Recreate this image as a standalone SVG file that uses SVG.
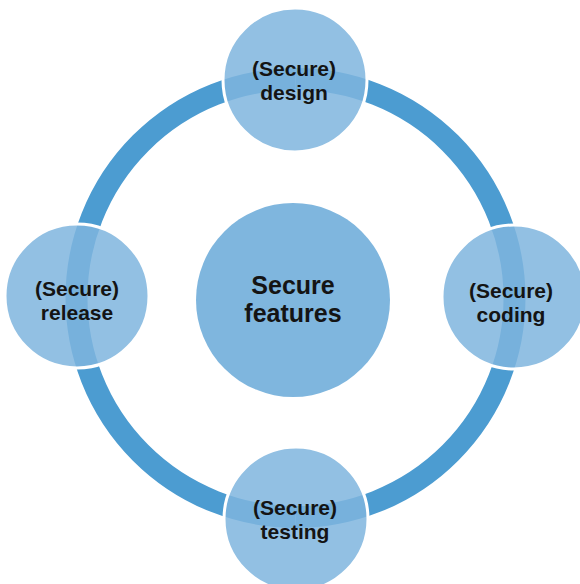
<svg xmlns="http://www.w3.org/2000/svg" width="580" height="584" viewBox="0 0 580 584">
<style>
.ring{fill:none;stroke:#4c9cd1;stroke-width:22}
.sat{fill:#7fb5de;fill-opacity:0.85;stroke:#ffffff;stroke-width:3}
.hub{fill:#7fb6de}
.t{font-family:"Liberation Sans",Arial,sans-serif;font-weight:bold;fill:#141414;text-anchor:middle}
.s{font-size:21px}
.c{font-size:25px}
</style>
<rect width="580" height="584" fill="#ffffff"/>
<g id="connectors">
<path class="ring" d="M295.5,79 A219,219 0 0 1 514.5,298"/>
<path class="ring" d="M514.5,298 A219,219 0 0 1 295.5,517"/>
<path class="ring" d="M295.5,517 A219,219 0 0 1 76.5,298"/>
<path class="ring" d="M76.5,298 A219,219 0 0 1 295.5,79"/>
</g>
<g id="hub">
<circle class="hub" cx="293" cy="300" r="97"/>
<text class="t c" x="293" y="294">Secure</text>
<text class="t c" x="293" y="322">features</text>
</g>
<g id="design">
<circle class="sat" cx="295" cy="80" r="72"/>
<text class="t s" x="294" y="76">(Secure)</text>
<text class="t s" x="294" y="100">design</text>
</g>
<g id="coding">
<circle class="sat" cx="514" cy="297" r="72"/>
<text class="t s" x="511" y="298">(Secure)</text>
<text class="t s" x="511" y="322">coding</text>
</g>
<g id="testing">
<circle class="sat" cx="296" cy="519" r="72"/>
<text class="t s" x="295" y="515">(Secure)</text>
<text class="t s" x="295" y="539">testing</text>
</g>
<g id="release">
<circle class="sat" cx="77" cy="296" r="72"/>
<text class="t s" x="77" y="296">(Secure)</text>
<text class="t s" x="77" y="320">release</text>
</g>
</svg>
